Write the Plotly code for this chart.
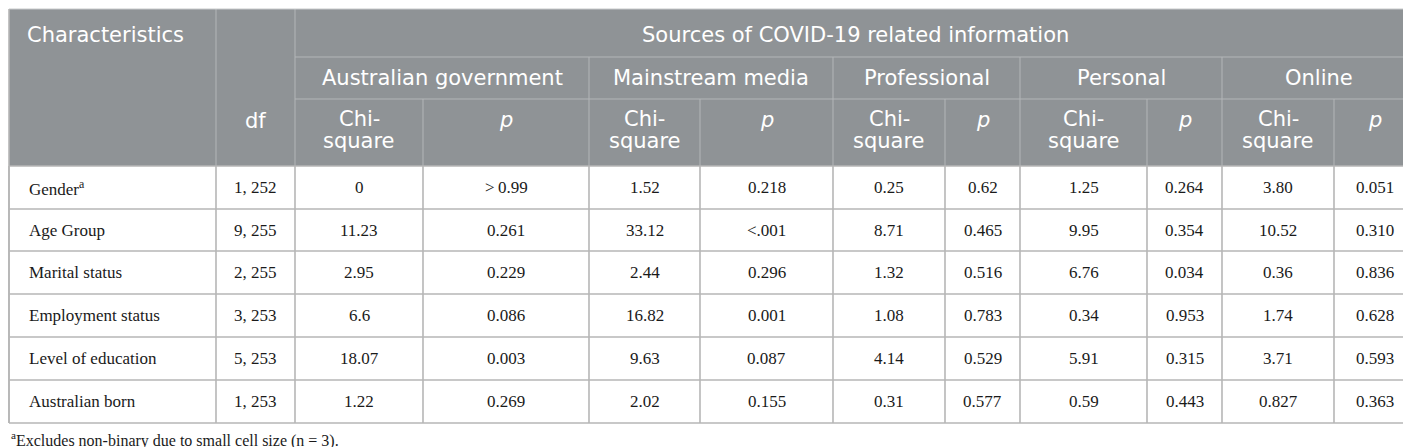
import plotly.graph_objects as go

# ---------------- data ----------------
characteristics = ["Gender<sup>a</sup>", "Age Group", "Marital status",
                   "Employment status", "Level of education", "Australian born"]
df_vals = ["1, 252", "9, 255", "2, 255", "3, 253", "5, 253", "1, 253"]
gov_chi = ["0", "11.23", "2.95", "6.6", "18.07", "1.22"]
gov_p = ["&gt;\u20090.99", "0.261", "0.229", "0.086", "0.003", "0.269"]
media_chi = ["1.52", "33.12", "2.44", "16.82", "9.63", "2.02"]
media_p = ["0.218", "&lt;.001", "0.296", "0.001", "0.087", "0.155"]
prof_chi = ["0.25", "8.71", "1.32", "1.08", "4.14", "0.31"]
prof_p = ["0.62", "0.465", "0.516", "0.783", "0.529", "0.577"]
pers_chi = ["1.25", "9.95", "6.76", "0.34", "5.91", "0.59"]
pers_p = ["0.264", "0.354", "0.034", "0.953", "0.315", "0.443"]
onl_chi = ["3.80", "10.52", "0.36", "1.74", "3.71", "0.827"]
onl_p = ["0.051", "0.310", "0.836", "0.628", "0.593", "0.363"]

header_top = "Characteristics"
header_df = "df"
header_sources = "Sources of COVID-19 related information"
groups = ["Australian government", "Mainstream media", "Professional", "Personal", "Online"]
sub_chi = ["Chi-", "square"]
sub_p = "<i>p</i>"
footnote = "<sup>a</sup>Excludes non-binary due to small cell size (n = 3)."

# ---------------- layout geometry ----------------
W, H = 1411, 447
col_x = [1, 208, 287, 415, 581, 692, 825, 937, 1012, 1139, 1214, 1326, 1407]
head_y = [1, 49, 91, 158]
row_y = [158, 201, 243, 286, 329, 372, 415]

HEAD_FILL = "#8f9396"
HEAD_LINE = "#b3b6b8"
BODY_LINE = "#b6b6b6"
HEAD_FONT = dict(family="DejaVu Sans", size=21, color="white")
BODY_FONT = dict(family="Liberation Serif", size=17, color="#1a1a1a")

body_cols = [df_vals, gov_chi, gov_p, media_chi, media_p, prof_chi, prof_p,
             pers_chi, pers_p, onl_chi, onl_p]

fig = go.Figure()
fig.add_trace(go.Scatter(x=[0, W], y=[0, H], mode="markers",
                         marker=dict(opacity=0), hoverinfo="skip", showlegend=False))

shapes = []
def line(x0, y0, x1, y1, color, width):
    shapes.append(dict(type="line", xref="x", yref="y", x0=x0, y0=y0, x1=x1, y1=y1,
                       line=dict(color=color, width=width)))

# header background
shapes.append(dict(type="rect", xref="x", yref="y", x0=col_x[0], y0=head_y[0],
                   x1=col_x[-1], y1=head_y[-1], fillcolor=HEAD_FILL,
                   line=dict(width=0), layer="below"))

# header inner lines
line(col_x[1], head_y[0], col_x[1], head_y[3], HEAD_LINE, 1)
line(col_x[2], head_y[0], col_x[2], head_y[3], HEAD_LINE, 1)
line(col_x[2], head_y[1], col_x[-1], head_y[1], HEAD_LINE, 1)
line(col_x[2], head_y[2], col_x[-1], head_y[2], HEAD_LINE, 1)
for g in range(1, len(groups)):
    xg = col_x[2 + 2 * g]
    line(xg, head_y[1], xg, head_y[3], HEAD_LINE, 1)
for g in range(len(groups)):
    xs = col_x[3 + 2 * g]
    line(xs, head_y[2], xs, head_y[3], HEAD_LINE, 1)

# body grid
for yv in row_y:
    line(col_x[0], yv, col_x[-1], yv, BODY_LINE, 1.6)
for xv in col_x:
    line(xv, row_y[0], xv, row_y[-1], BODY_LINE, 1.6)
# outer border
line(col_x[0], head_y[0], col_x[-1], head_y[0], "#c8cacb", 1)
line(col_x[0], head_y[0], col_x[0], row_y[-1], BODY_LINE, 1.6)
line(col_x[-1], head_y[0], col_x[-1], row_y[-1], BODY_LINE, 1.6)

ann = []
def text(x, y, s, font, xanchor="center", yanchor="middle"):
    ann.append(dict(x=x, y=y, xref="x", yref="y", text=s, showarrow=False,
                    font=font, xanchor=xanchor, yanchor=yanchor))

# header texts
text(17, 27, header_top, HEAD_FONT, xanchor="left")
text((col_x[1] + col_x[2]) / 2, 113, header_df, HEAD_FONT)
text((col_x[2] + col_x[-1]) / 2, 27, header_sources, HEAD_FONT)
for g, name in enumerate(groups):
    x0, x1 = col_x[2 + 2 * g], col_x[4 + 2 * g]
    text((x0 + x1) / 2, 70, name, HEAD_FONT)
    xc = (col_x[2 + 2 * g] + col_x[3 + 2 * g]) / 2
    xp = (col_x[3 + 2 * g] + col_x[4 + 2 * g]) / 2
    text(xc, 111, sub_chi[0], HEAD_FONT)
    text(xc, 133, sub_chi[1], HEAD_FONT)
    text(xp, 112, sub_p, HEAD_FONT)

# body texts
for r, name in enumerate(characteristics):
    yc = (row_y[r] + row_y[r + 1]) / 2
    text(19, yc, name, BODY_FONT, xanchor="left")
    for c, col in enumerate(body_cols):
        xc = (col_x[c + 1] + col_x[c + 2]) / 2
        text(xc, yc, col[r], BODY_FONT)

text(1, 431, footnote, dict(family="Liberation Serif", size=16, color="#1a1a1a"),
     xanchor="left")

fig.update_layout(
    width=W, height=H, margin=dict(l=0, r=0, t=0, b=0),
    paper_bgcolor="white", plot_bgcolor="white",
    xaxis=dict(range=[0, W], visible=False, fixedrange=True),
    yaxis=dict(range=[H, 0], visible=False, fixedrange=True),
    shapes=shapes, annotations=ann, showlegend=False,
)
fig.write_html("out.html")
